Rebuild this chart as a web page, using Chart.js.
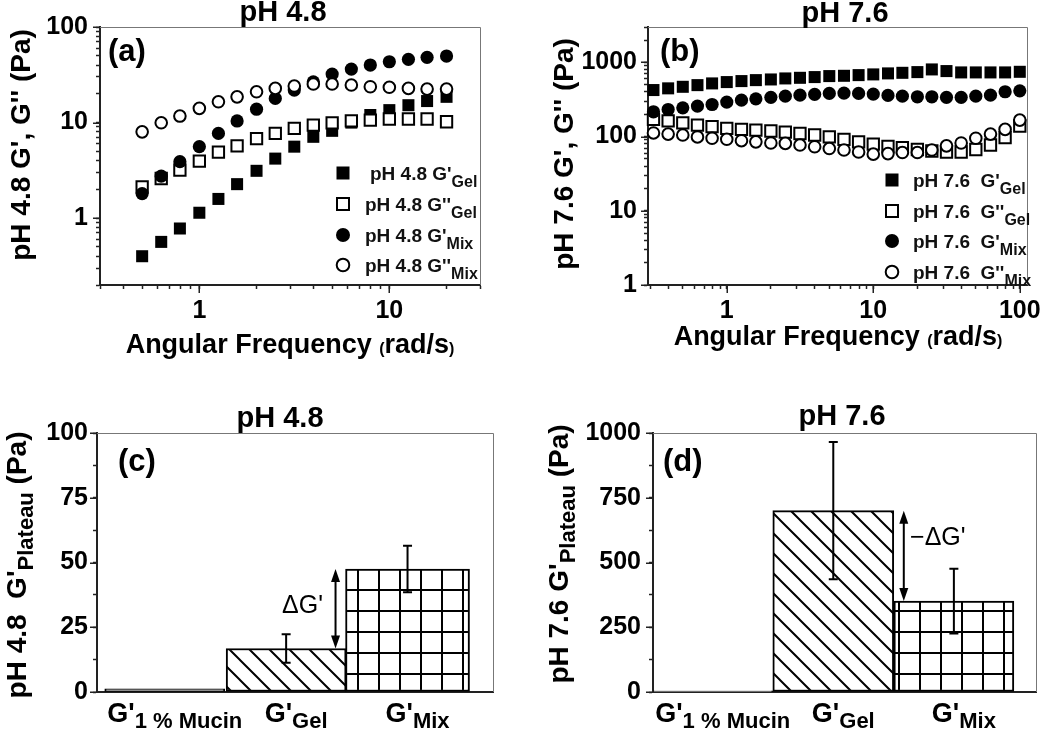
<!DOCTYPE html>
<html>
<head>
<meta charset="utf-8">
<script src="https://cdn.jsdelivr.net/npm/chart.js@4.4.0/dist/chart.umd.min.js"></script>
<style>
  body { margin: 0; background: #fff; width: 1050px; height: 735px; position: relative; overflow: hidden; }
  canvas { position: absolute; }
</style>
</head>
<body>
<canvas id="chartA" width="520" height="400" style="left:0;top:0"></canvas>
<canvas id="chartB" width="530" height="400" style="left:520px;top:0"></canvas>
<canvas id="chartC" width="520" height="335" style="left:0;top:400px"></canvas>
<canvas id="chartD" width="530" height="335" style="left:520px;top:400px"></canvas>
<script>
// ---- data ----
// (a) pH 4.8 frequency sweep
const freqA = [0.5, 0.63, 0.79, 1, 1.26, 1.58, 2, 2.51, 3.16, 3.98, 5, 6.31, 7.94, 10, 12.6, 15.8, 20];
const gelStorageA = [0.40, 0.565, 0.78, 1.14, 1.59, 2.27, 3.13, 4.2, 5.6, 7.1, 8.2, 10, 12, 13.5, 15.2, 16.8, 18.6];
const gelLossA = [2.13, 2.6, 3.18, 3.95, 4.9, 5.7, 6.8, 7.7, 8.7, 9.4, 9.95, 10.4, 10.6, 10.9, 10.9, 10.9, 10.2];
const mixStorageA = [1.81, 2.75, 3.9, 5.6, 7.7, 10.4, 13.8, 17.9, 21.9, 26.7, 32.2, 36.3, 40, 43.3, 45.9, 48.2, 49.7];
const mixLossA = [8.0, 9.95, 11.7, 14.1, 16.5, 18.6, 21, 22.8, 24.1, 25.3, 25.3, 24.7, 23.7, 23.4, 22.8, 22.4, 22.4];

// (b) pH 7.6 frequency sweep
const freqB = [0.316, 0.398, 0.501, 0.631, 0.794, 1, 1.26, 1.58, 2, 2.51, 3.16, 3.98, 5.01, 6.31, 7.94,
               10, 12.6, 15.8, 20, 25.1, 31.6, 39.8, 50.1, 63.1, 79.4, 100];
const gelStorageB = [424, 447, 469, 494, 521, 543, 560, 577, 589, 608, 620, 634, 654, 660, 674,
                     689, 711, 724, 740, 804, 764, 733, 733, 733, 733, 747];
const gelLossB = [171, 163, 153, 143, 136, 129, 125, 122, 119, 115, 110, 105, 99, 92, 85,
                  79, 74, 71, 67, 64, 62, 62, 67, 77, 97, 139];
const mixStorageB = [216, 232, 244, 258, 271, 292, 310, 323, 338, 351, 362, 371, 382, 386, 382,
                     374, 359, 351, 344, 344, 338, 338, 351, 362, 402, 414];
const mixLossB = [112, 108, 105, 99, 95, 92, 88, 85, 82, 81, 77, 73, 69, 66, 62,
                  58, 59, 61, 61, 66, 75, 82, 95, 108, 125, 167];

// (c), (d) plateau moduli
const barNames = ['1 % Mucin', 'Gel', 'Mix'];
const plateauC = [1.2, 16.8, 47.5];
const plateauErrC = [0, 5.5, 9];
const plateauD = [5, 700, 351];
const plateauErrD = [0, 265, 125];

// ---- common bits ----
const FONT = '"Liberation Sans", Arial, Helvetica, sans-serif';
Chart.defaults.font.family = FONT;
Chart.defaults.color = '#000';

const pairs = (xs, ys) => xs.map((x, i) => ({ x, y: ys[i] }));
const isDecade = v => Math.abs(Math.log10(v) - Math.round(Math.log10(v))) < 1e-6;

function logTicks(min, max) {
  return function (scale) {
    const t = [];
    for (let e = Math.floor(Math.log10(min)); e <= Math.ceil(Math.log10(max)); e++) {
      for (let m = 1; m < 10; m++) {
        const v = +(m * Math.pow(10, e)).toPrecision(6);
        if (v >= min * 0.999 && v <= max * 1.001) t.push({ value: v, major: m === 1 });
      }
    }
    scale.ticks = t;
  };
}

function R(t, size, dy, bold) { return { t, size, dy: dy || 0, bold: bold !== false }; }

function drawRich(ctx, item) {
  ctx.save();
  ctx.translate(item.x, item.y);
  if (item.rotate) ctx.rotate(-Math.PI / 2);
  ctx.textBaseline = 'alphabetic';
  ctx.fillStyle = item.color || '#000';
  const fonts = item.parts.map(p => (p.bold ? 'bold ' : '') + p.size + 'px ' + FONT);
  const widths = item.parts.map((p, i) => { ctx.font = fonts[i]; return ctx.measureText(p.t).width; });
  const total = widths.reduce((a, b) => a + b, 0);
  let cx = item.align === 'left' ? 0 : -total / 2;
  item.parts.forEach((p, i) => {
    ctx.font = fonts[i];
    ctx.fillText(p.t, cx, p.dy);
    cx += widths[i];
  });
  ctx.restore();
}

function drawMarker(ctx, kind, x, y) {
  ctx.save();
  ctx.fillStyle = '#000';
  ctx.strokeStyle = '#000';
  ctx.lineWidth = 2;
  if (kind === 'fs') ctx.fillRect(x - 6.5, y - 6.5, 13, 13);
  if (kind === 'os') { ctx.fillStyle = '#fff'; ctx.fillRect(x - 6, y - 6, 12, 12); ctx.strokeRect(x - 6, y - 6, 12, 12); }
  if (kind === 'fc') { ctx.beginPath(); ctx.arc(x, y, 7, 0, Math.PI * 2); ctx.fill(); }
  if (kind === 'oc') { ctx.fillStyle = '#fff'; ctx.beginPath(); ctx.arc(x, y, 6.3, 0, Math.PI * 2); ctx.fill(); ctx.stroke(); }
  ctx.restore();
}

// texts, legend, top/right frame, longer marks for labelled ticks
const decorPlugin = {
  id: 'decor',
  afterDraw(chart, args, opts) {
    const ctx = chart.ctx, a = chart.chartArea;
    ctx.save();
    ctx.strokeStyle = '#777';
    ctx.lineWidth = 1;
    ctx.beginPath();
    ctx.moveTo(a.left, a.top + 0.5);
    ctx.lineTo(a.right + 0.5, a.top + 0.5);
    ctx.lineTo(a.right + 0.5, a.bottom);
    ctx.stroke();
    ctx.strokeStyle = '#222';
    ctx.lineWidth = 1.5;
    ['x', 'y'].forEach(id => {
      const s = chart.scales[id];
      if (!s.options.ticks.display) return;
      s.ticks.forEach(t => {
        if (!t.label) return;
        const p = Math.round(s.getPixelForValue(t.value)) + 0.25;
        ctx.beginPath();
        if (id === 'x') { ctx.moveTo(p, a.bottom); ctx.lineTo(p, a.bottom + 8); }
        else { ctx.moveTo(a.left, p); ctx.lineTo(a.left - 7, p); }
        ctx.stroke();
      });
    });
    ctx.restore();
    (opts.texts || []).forEach(t => drawRich(ctx, t));
    (opts.legend || []).forEach(l => {
      drawMarker(ctx, l.kind, l.mx, l.y);
      drawRich(ctx, { x: l.tx, y: l.y + 7, align: 'left', parts: l.parts, color: '#111' });
    });
  }
};

// error bars, delta arrow and category labels on the bar panels
const barExtrasPlugin = {
  id: 'barExtras',
  afterDatasetsDraw(chart, args, opts) {
    const ctx = chart.ctx, ys = chart.scales.y;
    const bars = chart.data.datasets.map((ds, i) => chart.getDatasetMeta(i).data[0]);
    ctx.save();
    ctx.strokeStyle = '#000';
    ctx.fillStyle = '#000';
    ctx.lineWidth = 2;
    chart.data.datasets.forEach((ds, i) => {
      if (!ds.errorBar) return;
      const v = ds.data[0].y, b = bars[i];
      const top = ys.getPixelForValue(v + ds.errorBar), bot = ys.getPixelForValue(v - ds.errorBar);
      ctx.beginPath();
      ctx.moveTo(b.x, top); ctx.lineTo(b.x, bot);
      ctx.moveTo(b.x - 4.5, top); ctx.lineTo(b.x + 4.5, top);
      ctx.moveTo(b.x - 4.5, bot); ctx.lineTo(b.x + 4.5, bot);
      ctx.stroke();
    });
    // double-headed arrow between gel and mix tops
    const gel = bars[1], mix = bars[2];
    const ax = opts.arrowSide === 'mixLeft' ? mix.x - mix.width / 2 - 10 : gel.x + gel.width / 2 + 10;
    const y1 = Math.min(gel.y, mix.y), y2 = Math.max(gel.y, mix.y);
    ctx.beginPath(); ctx.moveTo(ax, y1 + 8); ctx.lineTo(ax, y2 - 8); ctx.stroke();
    ctx.beginPath(); ctx.moveTo(ax, y1); ctx.lineTo(ax - 4.5, y1 + 13); ctx.lineTo(ax + 4.5, y1 + 13); ctx.closePath(); ctx.fill();
    ctx.beginPath(); ctx.moveTo(ax, y2); ctx.lineTo(ax - 4.5, y2 - 13); ctx.lineTo(ax + 4.5, y2 - 13); ctx.closePath(); ctx.fill();
    ctx.restore();
    drawRich(ctx, { x: ax + opts.labelDx, y: (y1 + y2) / 2 + opts.labelDy, parts: [R(opts.label, 25, 0, false)] });
    // category labels under the bars
    bars.forEach((b, i) => {
      drawRich(ctx, { x: b.x + 10, y: opts.labelBaseline, parts: [R("G'", 27), R(barNames[i], 22, 6)] });
    });
  }
};

function hatchPattern() {
  const c = document.createElement('canvas');
  c.width = c.height = 20;
  const g = c.getContext('2d');
  g.fillStyle = '#fff'; g.fillRect(0, 0, 20, 20);
  g.strokeStyle = '#000'; g.lineWidth = 2;
  g.beginPath();
  g.moveTo(-2, -2); g.lineTo(22, 22);
  g.moveTo(-2, 18); g.lineTo(2, 22);
  g.moveTo(18, -2); g.lineTo(22, 2);
  g.stroke();
  return g.createPattern(c, 'repeat');
}
function gridPattern() {
  const c = document.createElement('canvas');
  c.width = c.height = 21;
  const g = c.getContext('2d');
  g.fillStyle = '#fff'; g.fillRect(0, 0, 21, 21);
  g.fillStyle = '#000'; g.fillRect(0, 0, 21, 2); g.fillRect(0, 0, 2, 21);
  return g.createPattern(c, 'repeat');
}

const tickFont = { size: 25, weight: 'bold' };
const axisBorder = { color: '#222', width: 2 };

function sweepDatasets(f, gs, gl, ms, ml) {
  return [
    { data: pairs(f, gs), pointStyle: 'rect', pointRadius: 8.5, backgroundColor: '#000', borderWidth: 0, order: 3, clip: false },
    { data: pairs(f, gl), pointStyle: 'rect', pointRadius: 8, backgroundColor: '#fff', borderColor: '#000', borderWidth: 2, order: 2, clip: false },
    { data: pairs(f, ms), pointStyle: 'circle', pointRadius: 6.6, backgroundColor: '#000', borderWidth: 0, order: 1, clip: false },
    { data: pairs(f, ml), pointStyle: 'circle', pointRadius: 5.8, backgroundColor: '#fff', borderColor: '#000', borderWidth: 2, order: 0, clip: false }
  ];
}

function sweepOptions(p) {
  return {
    responsive: false,
    animation: false,
    events: [],
    layout: { padding: { top: 27, right: p.padRight, left: 0, bottom: 0 } },
    plugins: { legend: { display: false }, tooltip: { enabled: false }, decor: p.decor },
    scales: {
      x: {
        type: 'logarithmic', min: p.xMin, max: p.xMax,
        afterBuildTicks: logTicks(p.xMin, p.xMax),
        afterFit: s => { s.height = 115; },
        grid: { drawOnChartArea: false, tickLength: 4, color: '#222', tickWidth: 1.5 },
        border: axisBorder,
        ticks: { autoSkip: false, maxRotation: 0, padding: 7, font: tickFont, color: '#000',
                 callback: v => isDecade(v) ? String(Math.round(v)) : '' }
      },
      y: {
        type: 'logarithmic', min: p.yMin, max: p.yMax,
        afterBuildTicks: logTicks(p.yMin, p.yMax),
        afterFit: s => { s.width = p.yWidth; },
        grid: { drawOnChartArea: false, tickLength: 4, color: '#222', tickWidth: 1.5 },
        border: axisBorder,
        ticks: { autoSkip: false, padding: p.yPad, font: tickFont, color: '#000',
                 callback: v => isDecade(v) ? String(Math.round(v)) : '' }
      }
    }
  };
}

// ---- (a) ----
new Chart(document.getElementById('chartA'), {
  type: 'scatter',
  data: { datasets: sweepDatasets(freqA, gelStorageA, gelLossA, mixStorageA, mixLossA) },
  options: sweepOptions({
    padRight: 40, xMin: 0.3, xMax: 30, yMin: 0.2, yMax: 100, yWidth: 100, yPad: 8,
    decor: {
      texts: [
        { x: 283, y: 21, parts: [R('pH 4.8', 29)] },
        { x: 108, y: 61, align: 'left', parts: [R('(a)', 31)] },
        { x: 30, y: 145, rotate: true, parts: [R("pH 4.8 G', G'' (Pa)", 28)] },
        { x: 290, y: 353, parts: [R('Angular Frequency ', 27), R('(', 16, 1), R('rad/s', 27), R(')', 16, 1)] }
      ],
      legend: [
        { kind: 'fs', mx: 343, tx: 370, y: 173, parts: [R("pH 4.8 G'", 19), R('Gel', 16, 7)] },
        { kind: 'os', mx: 343, tx: 365, y: 204, parts: [R("pH 4.8 G''", 19), R('Gel', 16, 7)] },
        { kind: 'fc', mx: 343, tx: 365, y: 235, parts: [R("pH 4.8 G'", 19), R('Mix', 16, 7)] },
        { kind: 'oc', mx: 343, tx: 365, y: 265, parts: [R("pH 4.8 G''", 19), R('Mix', 16, 7)] }
      ]
    }
  }),
  plugins: [decorPlugin]
});

// ---- (b) ----
new Chart(document.getElementById('chartB'), {
  type: 'scatter',
  data: { datasets: sweepDatasets(freqB, gelStorageB, gelLossB, mixStorageB, mixLossB) },
  options: sweepOptions({
    padRight: 23, xMin: 0.29, xMax: 112, yMin: 1, yMax: 3000, yWidth: 128, yPad: 7,
    decor: {
      texts: [
        { x: 325, y: 22, parts: [R('pH 7.6', 29)] },
        { x: 140, y: 61, align: 'left', parts: [R('(b)', 31)] },
        { x: 53, y: 154, rotate: true, parts: [R("pH 7.6 G', G'' (Pa)", 28)] },
        { x: 318, y: 345, parts: [R('Angular Frequency ', 27), R('(', 16, 1), R('rad/s', 27), R(')', 16, 1)] }
      ],
      legend: [
        { kind: 'fs', mx: 372, tx: 393, y: 180, parts: [R("pH 7.6  G'", 19), R('Gel', 16, 7)] },
        { kind: 'os', mx: 372, tx: 393, y: 211, parts: [R("pH 7.6  G''", 19), R('Gel', 16, 7)] },
        { kind: 'fc', mx: 372, tx: 393, y: 241, parts: [R("pH 7.6  G'", 19), R('Mix', 16, 7)] },
        { kind: 'oc', mx: 372, tx: 393, y: 272, parts: [R("pH 7.6  G''", 19), R('Mix', 16, 7)] }
      ]
    }
  }),
  plugins: [decorPlugin]
});

// ---- (c), (d) ----
function barDatasets(values, errs, mucinFill, widths) {
  const fills = [mucinFill, hatchPattern(), gridPattern()];
  return values.map((v, i) => ({
    data: [{ x: i + 1, y: v }],
    errorBar: errs[i],
    backgroundColor: fills[i],
    borderColor: '#000',
    borderWidth: i === 0 ? 1.5 : 2,
    borderSkipped: false,
    barThickness: widths[i],
    grouped: false
  }));
}

function barOptions(p) {
  return {
    responsive: false,
    animation: false,
    events: [],
    layout: { padding: { top: 33, right: p.padRight, left: 0, bottom: 0 } },
    plugins: { legend: { display: false }, tooltip: { enabled: false }, decor: p.decor, barExtras: p.extras },
    scales: {
      x: {
        type: 'linear', min: p.xMin, max: p.xMax, offset: false,
        afterFit: s => { s.height = 43; },
        grid: { display: false },
        border: axisBorder,
        ticks: { display: false }
      },
      y: {
        min: 0, max: p.yMax,
        afterFit: s => { s.width = p.yWidth; },
        grid: { drawOnChartArea: false, tickLength: 4, color: '#222', tickWidth: 1.5 },
        border: axisBorder,
        ticks: { stepSize: p.yMax / 8, autoSkip: false, padding: p.yPad, font: tickFont, color: '#000',
                 callback: v => (v % (p.yMax / 4) === 0 ? String(v) : '') }
      }
    }
  };
}

new Chart(document.getElementById('chartC'), {
  type: 'bar',
  data: { datasets: barDatasets(plateauC, plateauErrC, '#9c9c9c', [120, 120, 124]) },
  options: barOptions({
    padRight: 27, xMin: 0.442, xMax: 3.704, yMax: 100, yWidth: 97, yPad: 5,
    extras: { arrowSide: 'mixLeft', label: "\u0394G'", labelDx: -33, labelDy: 4, labelBaseline: 322 },
    decor: {
      texts: [
        { x: 280, y: 27, parts: [R('pH 4.8', 29)] },
        { x: 118, y: 71, align: 'left', parts: [R('(c)', 31)] },
        { x: 26, y: 165, rotate: true, parts: [R("pH 4.8  G'", 28), R('Plateau', 22, 7), R(' (Pa)', 28)] }
      ]
    }
  }),
  plugins: [decorPlugin, barExtrasPlugin]
});

new Chart(document.getElementById('chartD'), {
  type: 'bar',
  data: { datasets: barDatasets(plateauD, plateauErrD, '#fff', [120, 121, 120]) },
  options: barOptions({
    padRight: 14, xMin: 0.505, xMax: 3.681, yMax: 1000, yWidth: 133, yPad: 8,
    extras: { arrowSide: 'gelRight', label: "\u2212\u0394G'", labelDx: 34, labelDy: -11, labelBaseline: 322 },
    decor: {
      texts: [
        { x: 322, y: 25, parts: [R('pH 7.6', 29)] },
        { x: 143, y: 71, align: 'left', parts: [R('(d)', 31)] },
        { x: 48, y: 154, rotate: true, parts: [R("pH 7.6 G'", 28), R('Plateau', 22, 7), R(' (Pa)', 28)] }
      ]
    }
  }),
  plugins: [decorPlugin, barExtrasPlugin]
});
</script>
</body>
</html>
